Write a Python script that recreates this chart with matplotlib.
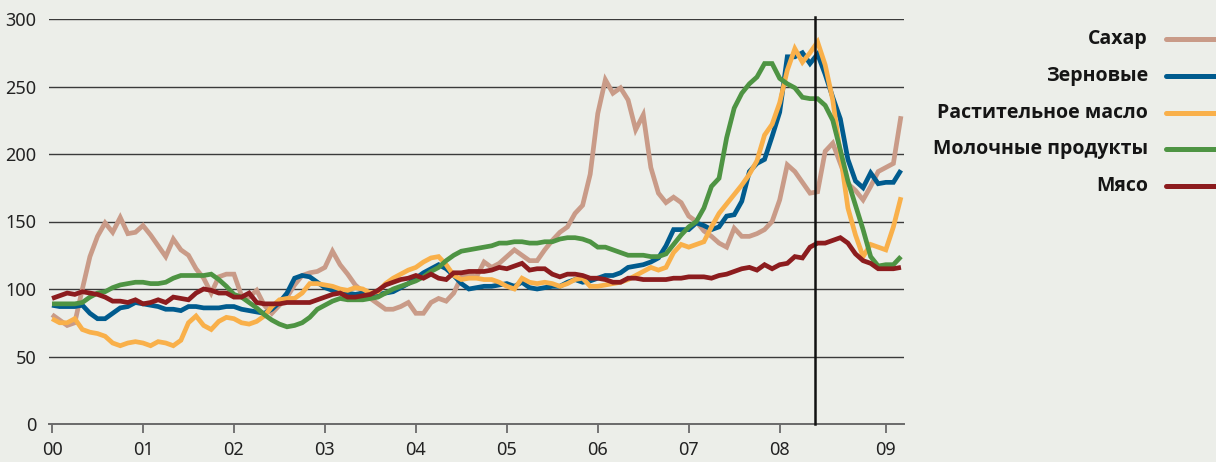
import matplotlib
matplotlib.use("Agg")
import matplotlib.pyplot as plt
from matplotlib.lines import Line2D
import numpy as np

plt.rcParams['font.family'] = ['Noto Sans', 'DejaVu Sans']

# Monthly index values, Jan 2000 .. May 2009
sugar = [81, 77, 73, 75, 100, 124, 139, 149, 142, 153, 141, 142, 147, 140, 132, 124, 137, 129, 125, 115,
         108, 97, 109, 111, 111, 95, 94, 99, 88, 82, 88, 94, 103, 110, 112, 113, 116, 128, 118, 111,
         103, 98, 93, 89, 85, 85, 87, 90, 82, 82, 90, 93, 91, 97, 109, 110, 109, 120, 116, 119,
         124, 129, 125, 121, 121, 129, 136, 142, 146, 156, 162, 185, 230, 255, 245, 249, 240, 218, 229, 190,
         171, 164, 168, 164, 154, 150, 143, 139, 134, 131, 145, 139, 139, 141, 144, 150, 166, 192, 187, 179,
         171, 172, 202, 208, 193, 178, 173, 166, 176, 187, 190, 193, 228]
cereals = [88, 87, 87, 87, 88, 82, 78, 78, 82, 86, 87, 90, 89, 88, 87, 85, 85, 84, 87, 87,
           86, 86, 86, 87, 87, 85, 84, 83, 82, 85, 90, 97, 108, 110, 109, 105, 101, 99, 99, 97,
           96, 97, 96, 96, 97, 98, 101, 104, 108, 112, 115, 118, 115, 110, 104, 100, 101, 102, 102, 103,
           104, 102, 105, 101, 100, 101, 102, 102, 105, 107, 105, 106, 108, 110, 110, 112, 116, 117, 118, 120,
           123, 132, 144, 144, 144, 149, 147, 144, 146, 154, 155, 165, 187, 193, 196, 213, 231, 272, 272, 275,
           267, 274, 259, 242, 226, 196, 180, 175, 186, 178, 179, 179, 188]
oils = [78, 75, 75, 78, 70, 68, 67, 65, 60, 58, 60, 61, 60, 58, 61, 60, 58, 62, 75, 80,
        73, 70, 76, 79, 78, 75, 74, 76, 80, 87, 92, 93, 93, 97, 104, 104, 103, 102, 100, 99,
        101, 100, 97, 98, 104, 108, 111, 114, 116, 120, 123, 124, 118, 110, 107, 108, 108, 107, 107, 105,
        102, 100, 108, 105, 104, 105, 104, 102, 104, 107, 108, 102, 102, 103, 104, 105, 107, 110, 113, 116,
        114, 116, 127, 133, 131, 133, 135, 146, 156, 163, 170, 177, 185, 195, 214, 222, 238, 262, 278, 268,
        275, 283, 266, 240, 200, 160, 140, 124, 133, 131, 129, 146, 168]
dairy = [89, 89, 89, 89, 90, 94, 97, 98, 101, 103, 104, 105, 105, 104, 104, 105, 108, 110, 110, 110,
         110, 111, 107, 102, 96, 94, 90, 86, 81, 77, 74, 72, 73, 75, 79, 85, 88, 91, 93, 92,
         92, 92, 93, 94, 97, 100, 102, 104, 106, 109, 113, 116, 121, 125, 128, 129, 130, 131, 132, 134,
         134, 135, 135, 134, 134, 135, 135, 137, 138, 138, 137, 135, 131, 131, 129, 127, 125, 125, 125, 124,
         124, 126, 133, 140, 146, 150, 160, 176, 182, 212, 234, 245, 252, 257, 267, 267, 256, 252, 249, 242,
         241, 241, 236, 225, 203, 180, 162, 144, 124, 117, 118, 118, 124]
meat = [93, 95, 97, 96, 98, 97, 96, 94, 91, 91, 90, 92, 89, 90, 92, 90, 94, 93, 92, 97,
        100, 99, 97, 97, 94, 94, 97, 90, 89, 89, 89, 90, 90, 90, 90, 92, 94, 96, 97, 94,
        94, 95, 96, 99, 103, 105, 107, 108, 110, 108, 111, 108, 107, 112, 112, 113, 113, 113, 114, 116,
        115, 117, 119, 114, 115, 115, 111, 109, 111, 111, 110, 108, 108, 107, 105, 105, 108, 108, 107, 107,
        107, 107, 108, 108, 109, 109, 109, 108, 110, 111, 113, 115, 116, 114, 118, 115, 118, 119, 124, 123,
        131, 134, 134, 136, 138, 134, 126, 121, 119, 115, 115, 115, 116]

series_names = ["Сахар", "Зерновые", "Растительное масло", "Молочные продукты", "Мясо"]
series_values = [sugar, cereals, oils, dairy, meat]
series_colors = ["#C99B88", "#005B8E", "#F9B04A", "#4E9443", "#8C1C1E"]

tick_positions = [0, 12, 24, 36, 48, 60, 72, 84, 96, 110]
tick_labels = ["00", "01", "02", "03", "04", "05", "06", "07", "08", "09"]
marker_month = 100.7

BG = "#ECEEE9"
W, H = 1216, 462
fig = plt.figure(figsize=(W / 100, H / 100), dpi=100, facecolor=BG)
ax = fig.add_axes([49 / W, 38 / H, (904 - 49) / W, (424 - 19) / H])
ax.set_facecolor(BG)

x = np.arange(len(sugar))
draw_order = [0, 2, 3, 1, 4]
for i in draw_order:
    ax.plot(x, series_values[i], color=series_colors[i], lw=3.4, solid_joinstyle='miter',
            solid_capstyle='butt', zorder=3 + i * 0.1)

ax.set_ylim(0, 300)
ax.set_xlim(-0.4, 112.4)
ax.set_yticks([0, 50, 100, 150, 200, 250, 300])
for yv in [50, 100, 150, 200, 250, 300]:
    ax.axhline(yv, color="#3a3a3a", lw=1.0, zorder=1)

ax.axvline(marker_month, ymin=0, ymax=1.006, color="#111111", lw=1.8, zorder=6, clip_on=False)

for s in ["top", "right", "left"]:
    ax.spines[s].set_visible(False)
ax.spines["bottom"].set_color("#6a6a6a")
ax.spines["bottom"].set_linewidth(1.4)

ax.set_xticks(tick_positions)
ax.set_xticklabels(tick_labels)
ax.tick_params(axis='x', direction='out', length=6.5, width=1.3, color="#6a6a6a",
               labelsize=13, labelcolor="#222222", pad=6)
ax.tick_params(axis='y', length=0, labelsize=13, labelcolor="#222222", pad=9)

# Legend at the right
row_y = [39, 76, 113, 149, 186]
for name, col, ry in zip(series_names, series_colors, row_y):
    fy = 1 - ry / H
    fig.text(1148 / W, fy, name, ha='right', va='center', fontsize=14,
             fontweight='bold', family=['Open Sans', 'DejaVu Sans'], color="#151515")
    fig.add_artist(Line2D([1166 / W, 1.02], [fy, fy], color=col, lw=3.6,
                          solid_capstyle='round', transform=fig.transFigure))

fig.savefig("out.png", dpi=100, facecolor=BG)
